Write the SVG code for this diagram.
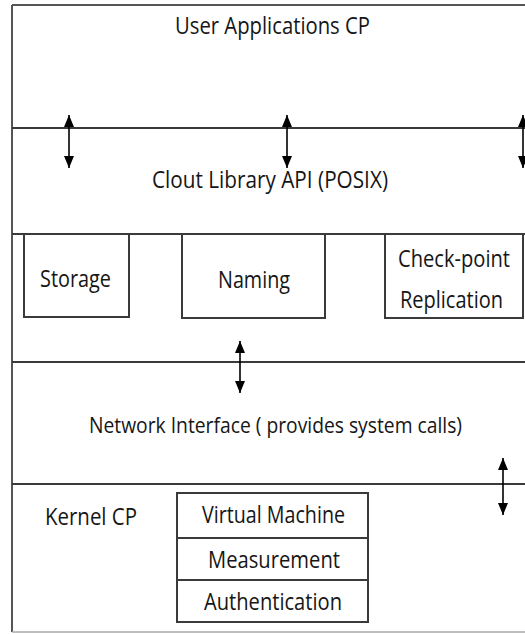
<svg xmlns="http://www.w3.org/2000/svg" width="525" height="634" viewBox="0 0 525 634">
  <style>
    .ln { stroke: #3a3a3a; stroke-width: 2; fill: none; }
    .frame { stroke: #555; stroke-width: 2; fill: none; }
    .box { stroke: #3a3a3a; stroke-width: 2; fill: #fff; }
    .t { font-family: "Open Sans", "Liberation Sans", sans-serif; font-size: 23px; fill: #161616; }
    .arr { stroke: #000; stroke-width: 1.6; fill: none; marker-start: url(#ah); marker-end: url(#ah); }
  </style>
  <defs>
    <marker id="ah" viewBox="0 0 12 10" refX="12" refY="5" markerWidth="12" markerHeight="10" markerUnits="userSpaceOnUse" orient="auto-start-reverse">
      <path d="M0,0 L12,5 L0,10 z" fill="#000"/>
    </marker>
  </defs>
  <rect width="525" height="634" fill="#fff"/>

  <g id="frame">
    <line class="frame" x1="12" y1="5" x2="525" y2="5"/>
    <line class="frame" x1="12" y1="5" x2="12" y2="632"/>
    <line x1="12" y1="632" x2="525" y2="632" stroke="#aaa" stroke-width="1.5"/>
  </g>

  <g id="user-applications">
    <text class="t" x="175" y="34" textLength="195" lengthAdjust="spacingAndGlyphs">User Applications CP</text>
  </g>

  <g id="clout-library">
    <line class="ln" x1="12" y1="128" x2="525" y2="128"/>
    <text class="t" x="152" y="188" textLength="236" lengthAdjust="spacingAndGlyphs">Clout Library API (POSIX)</text>
  </g>

  <g id="services-row">
    <line class="ln" x1="12" y1="234" x2="525" y2="234"/>
  </g>

  <g id="storage">
    <rect class="box" x="24" y="234" width="105" height="83"/>
    <text class="t" x="40" y="287" textLength="71" lengthAdjust="spacingAndGlyphs">Storage</text>
  </g>

  <g id="naming">
    <rect class="box" x="182" y="234" width="143" height="84"/>
    <text class="t" x="218" y="288" textLength="72" lengthAdjust="spacingAndGlyphs">Naming</text>
  </g>

  <g id="checkpoint-replication">
    <rect class="box" x="385" y="234" width="138" height="84"/>
    <text class="t" x="398" y="267" textLength="112" lengthAdjust="spacingAndGlyphs">Check-point</text>
    <text class="t" x="400" y="308" textLength="103" lengthAdjust="spacingAndGlyphs">Replication</text>
  </g>

  <g id="network-interface">
    <line class="ln" x1="12" y1="362" x2="525" y2="362"/>
    <text class="t" x="89" y="433" style="font-size:22px" textLength="373" lengthAdjust="spacingAndGlyphs">Network Interface ( provides system calls)</text>
  </g>

  <g id="kernel-cp">
    <line class="ln" x1="12" y1="484" x2="525" y2="484"/>
    <text class="t" x="45" y="525" textLength="92" lengthAdjust="spacingAndGlyphs">Kernel CP</text>
  </g>

  <g id="kernel-stack">
    <rect class="box" x="177" y="493" width="191" height="129"/>
    <line class="ln" x1="177" y1="538" x2="368" y2="538"/>
    <line class="ln" x1="177" y1="580" x2="368" y2="580"/>
    <text class="t" x="202" y="523" textLength="143" lengthAdjust="spacingAndGlyphs">Virtual Machine</text>
    <text class="t" x="208" y="568" textLength="132" lengthAdjust="spacingAndGlyphs">Measurement</text>
    <text class="t" x="204" y="610" textLength="138" lengthAdjust="spacingAndGlyphs">Authentication</text>
  </g>

  <g id="connectors">
    <line class="arr" x1="69" y1="115" x2="69" y2="168"/>
    <line class="arr" x1="287" y1="115" x2="287" y2="168"/>
    <line class="arr" x1="523" y1="115" x2="523" y2="168"/>
    <line class="arr" x1="240" y1="341" x2="240" y2="393"/>
    <line class="arr" x1="503" y1="458" x2="503" y2="515"/>
  </g>
</svg>
